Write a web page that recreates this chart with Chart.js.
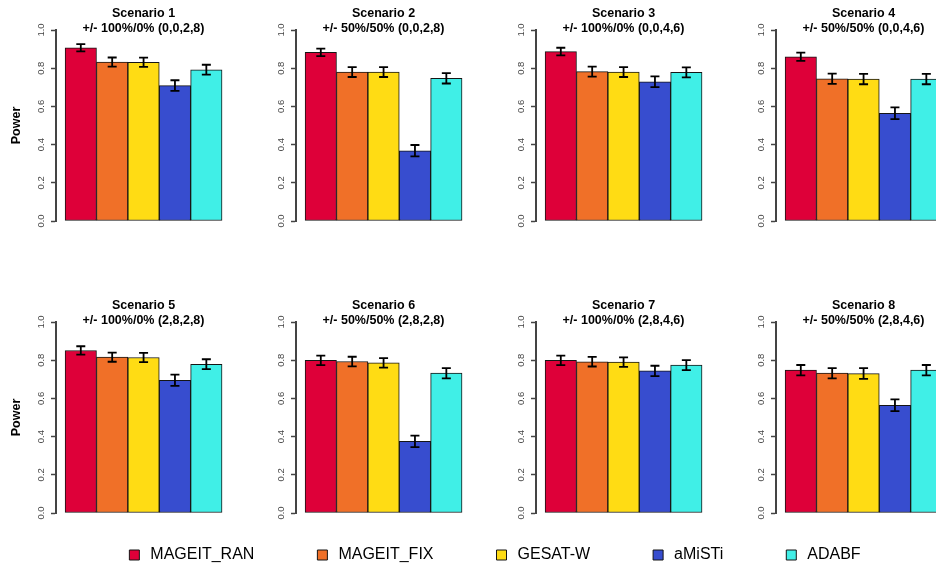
<!DOCTYPE html>
<html>
<head>
<meta charset="utf-8">
<script src="https://cdn.jsdelivr.net/npm/chart.js@4.4.1/dist/chart.umd.min.js"></script>
<style>
  html, body { margin: 0; padding: 0; background: #fff; }
  body { width: 936px; height: 567px; overflow: hidden; position: relative; }
  canvas { position: absolute; }
</style>
</head>
<body>
<script>
const methods = ["MAGEIT_RAN", "MAGEIT_FIX", "GESAT-W", "aMiSTi", "ADABF"];
const methodColors = ["#DE0039", "#F07028", "#FFDC14", "#374DCF", "#40EFE7"];

const scenarioNames = ["Scenario 1", "Scenario 2", "Scenario 3", "Scenario 4",
                       "Scenario 5", "Scenario 6", "Scenario 7", "Scenario 8"];
const scenarioSettings = ["+/- 100%/0% (0,0,2,8)", "+/- 50%/50% (0,0,2,8)",
                          "+/- 100%/0% (0,0,4,6)", "+/- 50%/50% (0,0,4,6)",
                          "+/- 100%/0% (2,8,2,8)", "+/- 50%/50% (2,8,2,8)",
                          "+/- 100%/0% (2,8,4,6)", "+/- 50%/50% (2,8,4,6)"];
const yTicks = [0, 0.2, 0.4, 0.6, 0.8, 1.0];

// power per method, one array per scenario
const powerS1 = [0.907, 0.832, 0.831, 0.709, 0.792];
const powerS2 = [0.883, 0.780, 0.780, 0.368, 0.747];
const powerS3 = [0.887, 0.782, 0.780, 0.729, 0.778];
const powerS4 = [0.860, 0.745, 0.743, 0.564, 0.743];
const powerS5 = [0.851, 0.816, 0.814, 0.695, 0.779];
const powerS6 = [0.799, 0.793, 0.786, 0.375, 0.732];
const powerS7 = [0.799, 0.792, 0.790, 0.744, 0.774];
const powerS8 = [0.748, 0.732, 0.730, 0.564, 0.748];

// half width of the error bars
const errS1 = [0.019, 0.024, 0.024, 0.028, 0.026];
const errS2 = [0.020, 0.026, 0.026, 0.030, 0.027];
const errS3 = [0.020, 0.026, 0.026, 0.028, 0.026];
const errS4 = [0.022, 0.027, 0.027, 0.031, 0.027];
const errS5 = [0.022, 0.024, 0.024, 0.029, 0.026];
const errS6 = [0.025, 0.025, 0.025, 0.030, 0.027];
const errS7 = [0.025, 0.025, 0.025, 0.027, 0.026];
const errS8 = [0.027, 0.027, 0.028, 0.031, 0.027];

const powers = [powerS1, powerS2, powerS3, powerS4, powerS5, powerS6, powerS7, powerS8];
const errs = [errS1, errS2, errS3, errS4, errS5, errS6, errS7, errS8];

Chart.defaults.font.family = "'Liberation Sans', Arial, sans-serif";
Chart.defaults.animation = false;
Chart.defaults.events = [];

const errorBars = {
  id: "errorBars",
  afterDatasetsDraw(chart, args, opts) {
    const { ctx } = chart;
    const y = chart.scales.y;
    const meta = chart.getDatasetMeta(0);
    const ds = chart.data.datasets[0];
    ctx.save();
    ctx.strokeStyle = "#000";
    ctx.lineWidth = 1.8;
    meta.data.forEach((bar, i) => {
      const v = ds.data[i].y;
      const top = y.getPixelForValue(v + opts.errors[i]);
      const bot = y.getPixelForValue(v - opts.errors[i]);
      ctx.beginPath();
      ctx.moveTo(bar.x, top); ctx.lineTo(bar.x, bot);
      ctx.moveTo(bar.x - 4.5, top); ctx.lineTo(bar.x + 4.5, top);
      ctx.moveTo(bar.x - 4.5, bot); ctx.lineTo(bar.x + 4.5, bot);
      ctx.stroke();
    });
    ctx.restore();
  }
};

function makePanel(k) {
  const col = k % 4, row = Math.floor(k / 4);
  const canvas = document.createElement("canvas");
  canvas.width = 287;
  canvas.height = 240;
  canvas.style.left = (col * 240) + "px";
  canvas.style.top = (row * 292) + "px";
  document.body.appendChild(canvas);

  new Chart(canvas, {
    type: "bar",
    data: {
      datasets: [{
        data: powers[k].map((v, i) => ({ x: i, y: v })),
        backgroundColor: methodColors,
        borderColor: "#151515",
        borderWidth: 1,
        borderSkipped: false,
        barPercentage: 1,
        categoryPercentage: 1
      }]
    },
    options: {
      responsive: false,
      layout: { padding: { top: 0, bottom: 19, left: 0, right: 0 } },
      plugins: {
        legend: { display: false },
        tooltip: { enabled: false },
        title: {
          display: true,
          text: [scenarioNames[k], scenarioSettings[k]],
          color: "#000",
          font: { size: 12.5, weight: "bold", lineHeight: "15px" },
          padding: { top: 6, bottom: -6 }
        },
        errorBars: { errors: errs[k] }
      },
      scales: {
        x: {
          type: "linear",
          display: false,
          offset: false,
          bounds: "data",
          min: -0.79,
          max: 6.57,
          // one tick per bar so the bars fill their slot
          afterBuildTicks: (s) => { s.ticks = methods.map((m, i) => ({ value: i })); }
        },
        y: {
          min: 0,
          max: 1,
          afterBuildTicks: (s) => { s.ticks = yTicks.map(v => ({ value: v })); },
          afterFit: (s) => { s.width = 56; },
          ticks: {
            minRotation: 90,
            maxRotation: 90,
            crossAlign: "center",
            padding: 3.5,
            color: "#444",
            font: { size: 9.5 },
            callback: (v) => v.toFixed(1)
          },
          grid: {
            drawOnChartArea: false,
            drawTicks: true,
            tickLength: 5,
            tickColor: "#444",
            tickWidth: 1.5
          },
          border: { display: true, color: "#444", width: 2 },
          title: {
            display: col === 0,
            text: "Power",
            color: "#000",
            font: { size: 12.5, weight: "bold" },
            padding: { top: 9.5, bottom: 0 }
          }
        }
      }
    },
    plugins: [errorBars]
  });
}

for (let k = 0; k < 8; k++) makePanel(k);

// shared legend along the bottom
const legendCanvas = document.createElement("canvas");
legendCanvas.width = 987;
legendCanvas.height = 300;
legendCanvas.style.left = "0px";
legendCanvas.style.top = "487px";
document.body.appendChild(legendCanvas);

new Chart(legendCanvas, {
  type: "bar",
  data: {
    labels: [],
    datasets: methods.map((m, i) => ({
      label: m,
      data: [],
      backgroundColor: methodColors[i],
      borderColor: "#151515",
      borderWidth: 1
    }))
  },
  options: {
    responsive: false,
    plugins: {
      tooltip: { enabled: false },
      legend: {
        position: "top",
        labels: {
          usePointStyle: true,
          pointStyle: "rect",
          boxWidth: 16,
          boxHeight: 10,
          padding: 60,
          color: "#000",
          font: { size: 16 }
        }
      }
    },
    scales: { x: { display: false }, y: { display: false } }
  }
});
</script>
</body>
</html>
